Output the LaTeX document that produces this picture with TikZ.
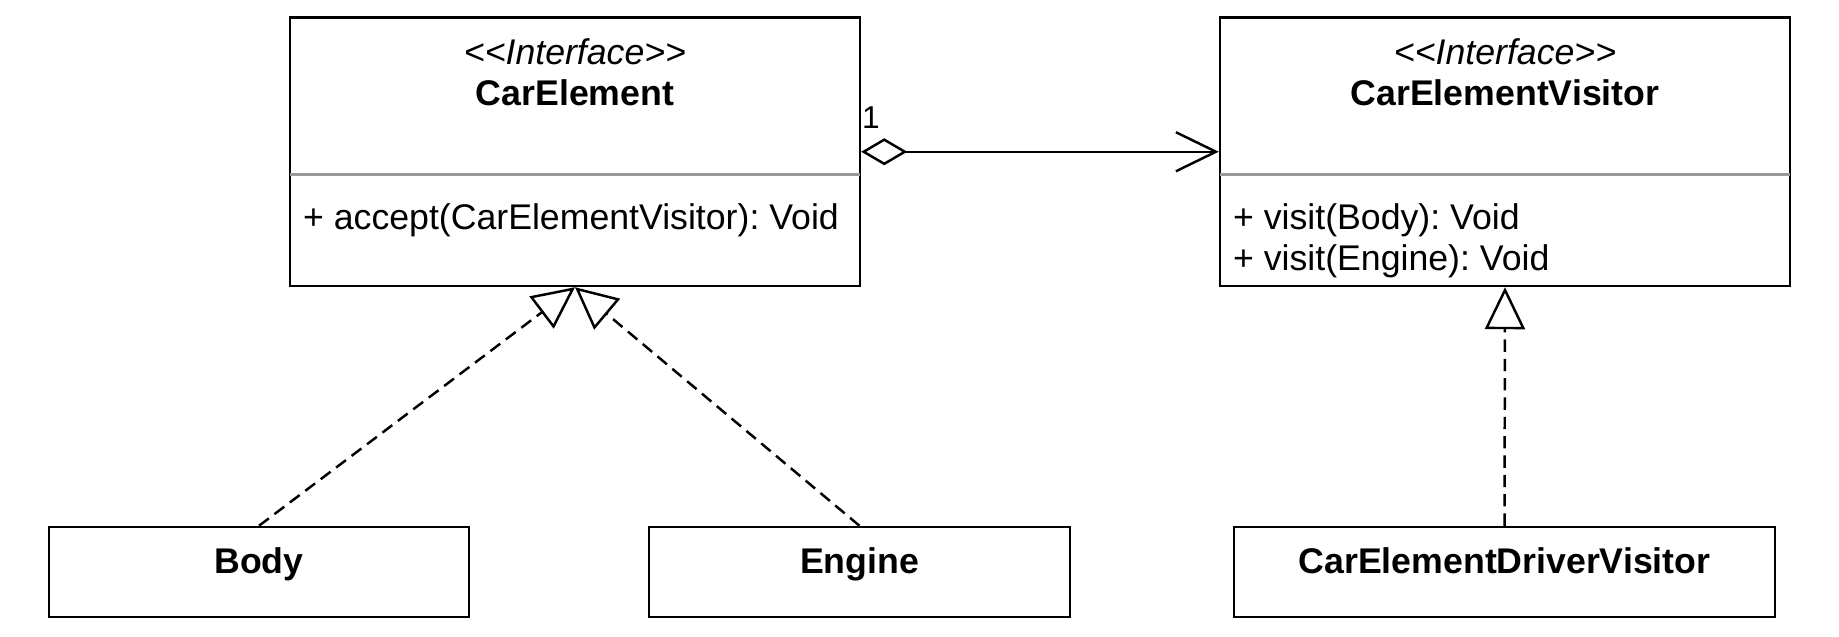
\documentclass[tikz,border=0pt]{standalone}
\usepackage{fontspec}
\setmainfont{Liberation Sans}
\usepackage{xcolor}
\usepackage{tikz}
\usetikzlibrary{calc,arrows.meta,positioning}
\definecolor{umlink}{HTML}{000000}
\definecolor{divider}{HTML}{999999}
\frenchspacing

\tikzset{
  classbox/.style={draw=umlink, line width=1.4pt, minimum width=11.4cm, minimum height=5.37cm, inner sep=0pt},
  leafbox/.style={draw=umlink, line width=1.4pt, minimum height=1.8cm, inner sep=0pt},
  umltext/.style={inner sep=0pt, font=\fontsize{20.3}{23.6}\selectfont},
  stereo/.style={umltext, font=\fontsize{20.3}{23.6}\selectfont\itshape},
  cname/.style={umltext, font=\fontsize{20.3}{23.6}\selectfont\bfseries},
  realize/.style={umlink, line width=1.4pt, dash pattern=on 7pt off 4pt,
    -{Triangle[open, length=0.84cm, width=0.8cm]}},
  aggreg/.style={umlink, line width=1.4pt,
    {Diamond[open, length=0.92cm, width=0.54cm]}-{Straight Barb[length=0.8cm, width=0.78cm]}},
}
\newcommand{\stereotype}[1]{{<}{<}#1{>}{>}}

\begin{document}
\begin{tikzpicture}[scale=1.0]
\useasboundingbox (0,0) rectangle (36.78,12.72);
% Interfaces
\node[classbox] (carelem) at (11.5,9.685) {};
\node[classbox] (visitor) at (30.1,9.685) {};
\foreach \cls in {carelem, visitor} {
  \draw[divider, line width=1.6pt] ($(\cls.north west)+(0.03,-3.17)$) -- ($(\cls.north east)+(-0.03,-3.17)$);
}
\node[stereo] (carelem-st) at ($(carelem.north)+(0,-0.71)$) {\stereotype{Interface}};
\node[cname] (carelem-name) at ($(carelem.north)+(0,-1.53)$) {CarElement};
\node[umltext, anchor=west] (carelem-op) at ($(carelem.north west)+(0.28,-4.08)$) {+ accept(CarElementVisitor): Void};
\node[stereo] (visitor-st) at ($(visitor.north)+(0,-0.71)$) {\stereotype{Interface}};
\node[cname] (visitor-name) at ($(visitor.north)+(0,-1.53)$) {CarElementVisitor};
\node[umltext, anchor=west, align=left] (visitor-op) at ($(visitor.north west)+(0.28,-4.49)$) {+ visit(Body): Void\\+ visit(Engine): Void};

% Concrete classes
\node[leafbox, minimum width=8.4cm] (body) at (5.18,1.28) {};
\node[leafbox, minimum width=8.42cm] (engine) at (17.19,1.28) {};
\node[leafbox, minimum width=10.82cm] (driver) at (30.09,1.28) {};
\node[cname, anchor=base] (body-name) at ($(body.center)+(0,-0.02)$) {Body};
\node[cname, anchor=base] (engine-name) at ($(engine.center)+(0,-0.02)$) {Engine};
\node[cname, anchor=base] (driver-name) at ($(driver.center)+(0,-0.02)$) {CarElementDriverVisitor};

% Relations
\draw[aggreg] (carelem.east) -- (visitor.west);
\node[umltext, font=\fontsize{18}{21}\selectfont] (mult) at (17.42,10.36) {1};
\draw[realize] (body.north) -- (carelem.south);
\draw[realize] (engine.north) -- (carelem.south);
\draw[realize] (driver.north) -- (visitor.south);
\end{tikzpicture}
\end{document}
